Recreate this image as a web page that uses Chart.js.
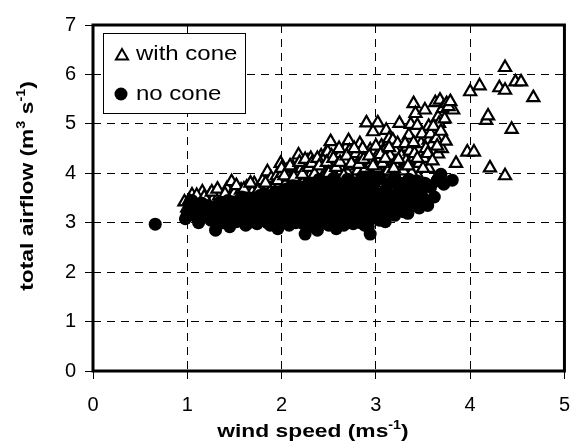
<!DOCTYPE html>
<html>
<head>
  <meta charset="UTF-8">
  <title>total airflow vs wind speed</title>
  <script src="https://cdn.jsdelivr.net/npm/chart.js"></script>
  <style>
    body {
      margin: 0;
      background: #fff;
    }
    #wrap {
      width: 584px;
      height: 448px;
    }
  </style>
</head>
<body>
  <div id="wrap"><canvas id="airflowChart" width="584" height="448"></canvas></div>

  <script>
    // [wind speed (m/s), total airflow (m3/s)]
    const withCone = [
      [0.97, 3.42], [1.00, 3.30], [1.05, 3.56], [1.08, 3.38], [1.12, 3.48], [1.16, 3.62], [1.20, 3.45],
      [1.24, 3.56], [1.28, 3.50], [1.30, 3.35], [1.34, 3.55], [1.38, 3.45], [1.42, 3.69], [1.45, 3.50],
      [1.47, 3.83], [1.50, 3.60], [1.54, 3.40], [1.57, 3.66], [1.60, 3.52], [1.63, 3.72], [1.66, 3.45],
      [1.69, 3.62], [1.71, 3.79], [1.74, 3.55], [1.77, 3.70], [1.80, 3.85], [1.82, 3.60], [1.85, 4.03],
      [1.87, 3.75], [1.89, 3.90], [1.92, 3.65], [1.95, 3.95], [1.97, 3.80], [1.99, 4.20], [2.02, 3.88],
      [2.05, 4.05], [2.07, 3.70], [2.10, 3.98], [2.12, 4.12], [2.15, 3.85], [2.18, 4.37], [2.20, 4.00],
      [2.23, 4.15], [2.26, 3.90], [2.28, 4.25], [2.31, 4.30], [2.33, 4.05], [2.36, 4.18], [2.39, 3.95],
      [2.42, 4.35], [2.45, 4.10], [2.47, 4.40], [2.49, 4.43], [2.52, 4.64], [2.54, 4.20], [2.57, 4.00],
      [2.60, 4.30], [2.63, 4.40], [2.65, 4.15], [2.68, 4.50], [2.71, 4.66], [2.73, 4.33], [2.75, 4.05],
      [2.78, 4.25], [2.80, 4.45], [2.83, 4.60], [2.85, 4.20], [2.88, 4.38], [2.90, 5.02], [2.92, 4.10],
      [2.94, 4.47], [2.97, 4.84], [3.00, 4.30], [3.02, 5.02], [3.04, 4.27], [3.06, 4.55], [3.08, 3.95],
      [3.11, 4.87], [3.12, 4.60], [3.14, 4.70], [3.16, 4.15], [3.18, 4.67], [3.18, 4.33], [3.18, 3.83],
      [3.21, 4.45], [3.25, 5.01], [3.26, 4.13], [3.28, 3.69], [3.30, 4.40], [3.33, 4.53], [3.35, 4.77],
      [3.35, 3.56], [3.37, 4.99], [3.39, 4.27], [3.40, 5.41], [3.42, 5.21], [3.42, 4.10], [3.44, 4.97],
      [3.45, 3.93], [3.48, 4.60], [3.51, 4.30], [3.52, 5.28], [3.56, 4.95], [3.56, 4.67], [3.56, 4.10],
      [3.59, 4.57], [3.63, 5.43], [3.63, 3.86], [3.66, 5.14], [3.66, 4.39], [3.67, 5.01], [3.68, 5.48],
      [3.70, 4.50], [3.71, 5.31], [3.75, 5.41], [3.82, 5.28], [3.85, 4.20],
      [2.30, 3.80], [2.40, 3.75], [2.50, 3.85], [2.55, 3.72], [2.62, 3.90], [2.70, 3.80], [2.77, 3.92],
      [2.84, 3.85], [2.90, 3.75], [2.96, 4.00], [3.02, 3.80], [2.06, 3.60], [2.16, 3.72], [2.25, 3.62],
      [2.35, 3.68], [2.44, 3.58], [2.58, 3.65], [2.66, 3.62], [2.74, 3.70], [2.87, 3.62], [2.99, 3.68],
      [3.10, 3.70],
      [1.90, 3.70], [1.96, 3.85], [2.01, 4.00], [2.04, 3.78], [2.08, 3.92], [2.11, 3.82], [2.14, 4.02],
      [2.17, 3.95], [2.21, 4.10], [2.24, 3.85], [2.27, 4.05], [2.30, 3.95], [2.34, 4.12], [2.37, 3.85],
      [2.41, 4.05], [2.44, 4.25], [2.46, 3.95], [2.51, 4.10], [2.53, 4.35], [2.56, 4.15], [2.59, 3.95],
      [2.61, 4.50], [2.64, 4.05], [2.67, 4.25], [2.70, 4.00], [2.72, 4.45], [2.76, 4.15], [2.79, 4.40],
      [2.81, 4.05], [2.84, 4.30], [2.86, 4.50], [2.89, 4.10], [2.91, 4.25], [2.95, 4.20], [2.98, 4.45],
      [3.01, 4.10], [3.03, 4.40], [3.07, 4.20], [3.09, 4.45], [3.13, 4.05], [3.15, 4.35], [3.20, 4.20],
      [3.23, 4.60], [3.27, 4.35], [3.29, 4.05], [3.32, 4.25], [3.36, 4.45], [3.38, 4.00], [3.41, 4.40],
      [3.46, 4.20], [3.49, 4.80], [3.53, 4.50], [3.58, 4.80], [3.61, 4.95], [3.64, 4.70], [3.69, 4.85],
      [3.73, 5.10], [3.77, 5.35], [3.79, 5.45], [3.74, 4.65],
      [2.00, 4.10], [2.03, 3.95], [2.09, 4.15], [2.13, 3.92], [2.19, 4.22], [2.22, 3.98], [2.25, 4.28],
      [2.29, 4.12], [2.32, 4.20], [2.35, 3.98], [2.38, 4.30], [2.40, 4.15], [2.43, 3.90], [2.48, 4.22],
      [2.50, 4.00], [2.55, 4.30], [2.58, 4.12], [2.62, 4.22], [2.66, 3.95], [2.69, 4.35], [2.74, 4.20],
      [2.77, 4.50], [2.82, 4.18], [2.87, 4.28], [2.93, 4.35], [2.97, 4.15], [3.00, 4.55], [3.05, 4.38],
      [3.10, 4.30], [3.14, 4.52], [3.19, 4.10], [3.24, 4.28], [3.31, 4.60], [3.34, 4.15], [3.40, 4.62],
      [3.44, 4.30], [3.50, 4.10], [3.55, 4.40], [3.60, 4.25], [3.65, 4.55],
      [1.02, 3.45], [1.10, 3.55], [1.18, 3.52], [1.26, 3.62], [1.32, 3.68], [1.40, 3.58], [1.52, 3.75],
      [1.60, 3.68], [1.67, 3.80], [1.75, 3.65], [1.83, 3.80],
      [3.97, 4.43], [4.04, 4.43], [4.00, 5.65], [4.10, 5.77], [4.17, 5.07], [4.19, 5.16], [4.21, 4.11],
      [4.31, 5.73], [4.37, 5.68], [4.37, 6.14], [4.37, 3.95], [4.44, 4.89], [4.48, 5.85], [4.54, 5.85],
      [4.67, 5.53]
    ];

    const noCone = [
      [0.66, 2.97],
      [0.98, 3.08], [1.00, 3.20], [1.03, 3.35], [1.08, 3.15], [1.12, 3.00], [1.12, 3.28], [1.15, 3.40],
      [1.18, 3.12], [1.22, 3.22], [1.25, 3.05], [1.28, 3.30], [1.30, 2.85], [1.32, 3.15], [1.35, 3.42],
      [1.38, 3.00], [1.40, 3.25], [1.42, 3.10], [1.45, 2.92], [1.47, 3.35], [1.50, 3.18], [1.52, 3.02],
      [1.55, 3.45], [1.57, 3.28], [1.60, 3.10], [1.62, 2.95], [1.64, 3.38], [1.66, 3.20], [1.68, 3.05],
      [1.70, 3.50], [1.72, 3.30], [1.74, 2.98], [1.76, 3.15], [1.78, 3.40], [1.80, 3.25], [1.82, 3.05],
      [1.84, 3.55], [1.86, 3.18], [1.88, 2.95], [1.90, 3.35], [1.92, 3.48], [1.94, 3.10], [1.96, 2.88],
      [1.98, 3.28], [2.00, 3.60], [2.02, 3.02], [2.04, 3.40], [2.06, 3.20], [2.08, 2.95], [2.10, 3.55],
      [2.11, 3.12], [2.13, 3.32], [2.15, 3.00], [2.17, 3.65], [2.19, 3.45], [2.21, 3.22], [2.23, 2.98],
      [2.25, 2.77], [2.26, 3.38], [2.28, 3.58], [2.30, 3.10], [2.32, 3.30], [2.34, 2.92], [2.36, 3.50],
      [2.38, 2.85], [2.40, 3.20], [2.42, 3.68], [2.44, 3.05], [2.46, 3.42], [2.48, 3.15], [2.50, 2.95],
      [2.52, 3.55], [2.54, 3.28], [2.56, 3.02], [2.58, 2.88], [2.60, 3.70], [2.62, 3.40], [2.64, 3.12],
      [2.66, 2.95], [2.68, 3.60], [2.70, 3.25], [2.72, 3.05], [2.74, 3.48], [2.76, 2.98], [2.78, 3.35],
      [2.80, 3.15], [2.82, 3.62], [2.84, 3.00], [2.86, 3.45], [2.88, 2.95], [2.90, 3.25], [2.92, 2.92],
      [2.94, 2.77], [2.96, 3.55], [2.98, 3.10], [3.02, 3.40], [3.05, 3.20], [3.08, 3.60], [3.10, 3.02],
      [3.14, 3.30], [3.18, 3.48], [3.20, 3.15], [3.24, 3.65], [3.27, 3.35], [3.30, 3.22], [3.34, 3.19],
      [3.36, 3.55], [3.40, 3.70], [3.44, 3.45], [3.48, 3.62], [3.52, 3.80], [3.55, 3.35], [3.58, 3.72],
      [3.62, 3.52], [3.65, 3.85], [3.69, 3.98], [3.72, 3.78], [3.81, 3.86],
      [1.05, 3.45], [1.10, 3.10], [1.20, 3.35], [1.26, 3.18], [1.34, 3.02], [1.37, 3.30], [1.43, 3.45],
      [1.48, 3.05], [1.50, 3.40], [1.54, 3.20], [1.58, 3.52], [1.61, 3.32], [1.65, 3.00], [1.69, 3.42],
      [1.73, 3.15], [1.77, 3.55], [1.81, 3.40], [1.85, 3.00], [1.87, 3.30], [1.91, 3.15], [1.93, 3.62],
      [1.97, 3.45], [1.99, 3.05], [2.03, 3.25], [2.05, 3.68], [2.09, 3.40], [2.12, 3.75], [2.14, 3.18],
      [2.18, 3.05], [2.20, 3.50], [2.22, 3.72], [2.24, 3.30], [2.27, 3.15], [2.29, 3.80], [2.31, 3.45],
      [2.33, 3.05], [2.35, 3.65], [2.37, 3.25], [2.39, 3.00], [2.41, 3.45], [2.43, 3.82], [2.45, 3.25],
      [2.47, 3.60], [2.49, 3.05], [2.51, 3.75], [2.53, 3.15], [2.55, 3.45], [2.57, 3.85], [2.59, 3.22],
      [2.61, 3.55], [2.63, 3.00], [2.65, 3.78], [2.67, 3.35], [2.69, 3.10], [2.71, 3.70], [2.73, 3.20],
      [2.75, 3.60], [2.77, 3.10], [2.79, 3.50], [2.81, 3.80], [2.83, 3.30], [2.85, 3.15], [2.87, 3.65],
      [2.89, 3.40], [2.91, 3.05], [2.93, 3.75], [2.95, 3.35], [2.97, 3.20], [2.99, 3.60], [3.00, 3.85],
      [3.04, 3.05], [3.06, 3.50], [3.09, 3.35], [3.12, 3.15], [3.13, 3.78], [3.16, 3.55], [3.22, 3.40],
      [3.26, 3.80], [3.29, 3.50], [3.32, 3.65], [3.38, 3.35], [3.43, 3.85], [3.46, 3.30], [3.50, 3.50],
      [2.40, 3.88], [2.55, 3.90], [2.70, 3.88], [2.85, 3.92], [2.95, 3.95], [3.05, 3.90], [3.20, 3.92],
      [3.35, 3.88]
    ];

    const xTicks = [0, 1, 2, 3, 4, 5];
    const yTicks = [0, 1, 2, 3, 4, 5, 6, 7];
    const seriesNames = ['with cone', 'no cone'];

    const FONT = "'Liberation Sans', Arial, sans-serif";
    const STRETCH = 1.2; // the titles in the original are drawn a bit wide

    // text with superscript pieces, centred on the current origin
    function drawRich(ctx, parts, size) {
      let total = 0;
      parts.forEach(p => {
        ctx.font = 'bold ' + (p.sup ? Math.round(size * 0.62) : size) + 'px ' + FONT;
        p.w = ctx.measureText(p.t).width;
        total += p.w;
      });
      let x = -total / 2;
      parts.forEach(p => {
        ctx.font = 'bold ' + (p.sup ? Math.round(size * 0.62) : size) + 'px ' + FONT;
        ctx.fillText(p.t, x, p.sup ? -size * 0.42 : 0);
        x += p.w;
      });
    }

    function triangle(ctx, x, y, r) {
      ctx.beginPath();
      let a = 0;
      ctx.moveTo(x + Math.sin(a) * r, y - Math.cos(a) * r);
      a += 2 * Math.PI / 3;
      ctx.lineTo(x + Math.sin(a) * r, y - Math.cos(a) * r);
      a += 2 * Math.PI / 3;
      ctx.lineTo(x + Math.sin(a) * r, y - Math.cos(a) * r);
      ctx.closePath();
    }

    const decorations = {
      id: 'decorations',
      afterDraw(chart) {
        const ctx = chart.ctx;
        const a = chart.chartArea;

        // heavy frame round the plot
        ctx.save();
        ctx.strokeStyle = '#000';
        ctx.lineWidth = 3;
        ctx.strokeRect(a.left, a.top, a.right - a.left, a.bottom - a.top);

        // legend box
        ctx.lineWidth = 1;
        ctx.fillStyle = '#fff';
        ctx.fillRect(103.5, 33.5, 142, 80);
        ctx.strokeRect(103.5, 33.5, 142, 80);

        triangle(ctx, 122, 56, 7);
        ctx.fillStyle = '#fff';
        ctx.fill();
        ctx.lineWidth = 2;
        ctx.stroke();

        ctx.beginPath();
        ctx.arc(121, 94, 6.5, 0, Math.PI * 2);
        ctx.fillStyle = '#000';
        ctx.fill();

        ctx.fillStyle = '#000';
        ctx.textBaseline = 'alphabetic';
        ctx.font = '20px ' + FONT;
        [[seriesNames[0], 60], [seriesNames[1], 100]].forEach(([t, y]) => {
          ctx.save();
          ctx.translate(136, y);
          ctx.scale(STRETCH, 1);
          ctx.fillText(t, 0, 0);
          ctx.restore();
        });

        // axis titles
        ctx.save();
        ctx.translate(313, 437);
        ctx.scale(STRETCH, 1);
        drawRich(ctx, [{t: 'wind speed (ms'}, {t: '-1', sup: true}, {t: ')'}], 19);
        ctx.restore();

        ctx.save();
        ctx.translate(33, 186);
        ctx.rotate(-Math.PI / 2);
        ctx.scale(STRETCH, 1);
        drawRich(ctx, [{t: 'total airflow (m'}, {t: '3', sup: true}, {t: ' s'}, {t: '-1', sup: true}, {t: ')'}], 19);
        ctx.restore();

        ctx.restore();
      }
    };

    new Chart(document.getElementById('airflowChart'), {
      type: 'scatter',
      data: {
        datasets: [
          {
            label: seriesNames[0],
            data: withCone.map(p => ({x: p[0], y: p[1]})),
            pointStyle: 'triangle',
            pointRadius: 7,
            backgroundColor: '#fff',
            borderColor: '#000',
            borderWidth: 2.2,
            order: 1
          },
          {
            label: seriesNames[1],
            data: noCone.map(p => ({x: p[0], y: p[1]})),
            pointStyle: 'circle',
            pointRadius: 6.5,
            backgroundColor: '#000',
            borderColor: '#000',
            borderWidth: 0,
            order: 0
          }
        ]
      },
      options: {
        responsive: false,
        animation: false,
        layout: { padding: { top: 25, right: 8, left: 0, bottom: 0 } },
        plugins: {
          legend: { display: false },
          tooltip: { enabled: false }
        },
        scales: {
          x: {
            type: 'linear',
            min: 0,
            max: 5,
            afterBuildTicks: s => { s.ticks = xTicks.map(v => ({value: v})); },
            afterFit: s => { s.height = 77; },
            ticks: { color: '#000', font: { family: FONT, size: 20 }, padding: 14 },
            grid: { color: '#000', lineWidth: 1, tickLength: 8, tickBorderDash: [] },
            border: { display: false, dash: [8, 6] }
          },
          y: {
            min: 0,
            max: 7,
            afterBuildTicks: s => { s.ticks = yTicks.map(v => ({value: v})); },
            afterFit: s => { s.width = 93; },
            ticks: { color: '#000', font: { family: FONT, size: 20 }, padding: 9 },
            grid: { color: '#000', lineWidth: 1, tickLength: 8, tickBorderDash: [] },
            border: { display: false, dash: [8, 6] }
          }
        }
      },
      plugins: [decorations]
    });
  </script>
</body>
</html>
